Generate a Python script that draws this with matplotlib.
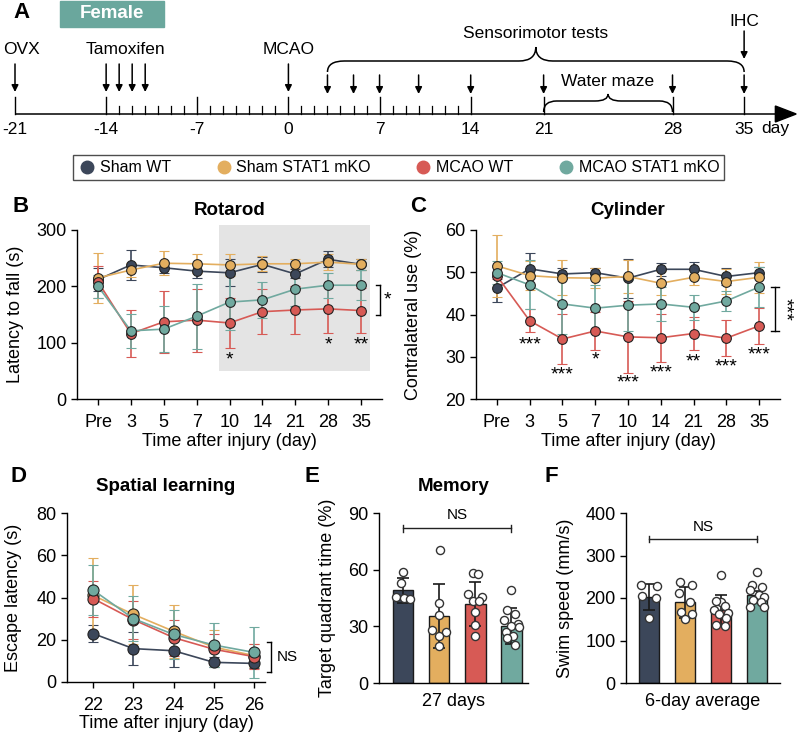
import numpy as np
import matplotlib
matplotlib.use('Agg')
import matplotlib.pyplot as plt
from matplotlib.path import Path
from matplotlib.patches import PathPatch, Rectangle, Polygon
from matplotlib.lines import Line2D

plt.rcParams['font.family'] = ['Liberation Sans', 'DejaVu Sans']
plt.rcParams['axes.linewidth'] = 1.0

W, H = 797, 736

# ---------------- data ----------------
groups = ['Sham WT', 'Sham STAT1 mKO', 'MCAO WT', 'MCAO STAT1 mKO']
colors = ['#3c475a', '#e3ae5f', '#d75a55', '#70a99f']

days_labels = ['Pre', '3', '5', '7', '10', '14', '21', '28', '35']

rotarod_mean = [
    [212, 238, 233, 227, 224, 239, 222, 248, 239],
    [215, 229, 241, 240, 238, 240, 240, 243, 239],
    [208, 116, 137, 140, 135, 155, 158, 160, 157],
    [200, 121, 124, 147, 172, 176, 195, 202, 202],
]
rotarod_err = [
    [20, 27, 10, 12, 24, 13, 8, 14, 10],
    [45, 12, 21, 17, 19, 13, 8, 14, 10],
    [28, 42, 55, 56, 45, 40, 42, 43, 40],
    [20, 30, 41, 58, 49, 32, 30, 22, 27],
]
rotarod_stars = {4: ('*', 70), 7: ('*', 96), 8: ('**', 96)}

cyl_mean = [
    [46.3, 50.8, 49.6, 49.9, 48.6, 50.7, 50.7, 49.0, 49.9],
    [51.5, 49.2, 48.7, 48.6, 49.0, 47.4, 48.8, 47.8, 48.8],
    [49.1, 38.5, 34.2, 36.1, 34.7, 34.5, 35.5, 34.4, 37.3],
    [49.9, 47.0, 42.5, 41.5, 42.2, 42.5, 41.7, 43.2, 46.5],
]
cyl_err = [
    [3.3, 3.7, 1.3, 1.0, 4.6, 1.6, 1.8, 2.0, 1.3],
    [7.3, 3.5, 4.2, 2.4, 4.0, 2.8, 1.8, 3.0, 3.6],
    [0.8, 2.7, 6.0, 4.4, 8.5, 5.7, 3.8, 4.3, 4.3],
    [2.7, 5.8, 7.0, 5.5, 6.0, 4.0, 3.0, 2.3, 4.8],
]
cyl_stars = ['', '***', '***', '*', '***', '***', '**', '***', '***']
cyl_star_y = [0, 32.8, 25.7, 29.3, 23.8, 26.2, 28.8, 27.6, 30.4]

learn_days = [22, 23, 24, 25, 26]
learn_mean = [
    [22.9, 15.8, 14.8, 9.3, 8.8],
    [41.0, 32.0, 24.0, 16.5, 12.5],
    [39.5, 29.5, 21.0, 15.5, 12.0],
    [43.5, 30.0, 22.5, 17.5, 14.0],
]
learn_err = [
    [4.2, 7.9, 7.6, 2.3, 2.0],
    [17.5, 14.0, 12.5, 8.0, 5.5],
    [8.5, 9.0, 8.5, 7.0, 6.0],
    [12.0, 10.5, 11.5, 10.5, 12.0],
]

memory_mean = [49.2, 35.5, 41.8, 30.0]
memory_sd = [6.6, 17.0, 11.7, 9.5]
memory_pts = [
    [59, 53, 45.5, 45, 44.5],
    [70.6, 42.4, 35.9, 27.9, 27.0, 24.7, 19.5],
    [58, 57.5, 47, 45.5, 43.5, 43.5, 37.5, 30.5, 24.7],
    [49.5, 38.5, 36.5, 33.5, 31.5, 30, 29.5, 27, 25, 24, 20],
]
memory_off = [
    [0.0, -0.05, -0.2, 0.02, 0.2],
    [0.02, 0.0, 0.0, -0.2, 0.2, 0.0, 0.0],
    [-0.05, 0.08, -0.2, 0.2, -0.05, 0.12, 0.0, 0.0, 0.0],
    [0.0, -0.1, 0.12, -0.2, 0.2, 0.0, 0.22, -0.15, 0.05, -0.12, 0.1],
]

swim_mean = [202, 190, 172, 207]
swim_sd = [30, 37, 36, 10]
swim_pts = [
    [231, 228, 205, 201, 154],
    [238, 231, 212, 190, 168, 162, 150],
    [254, 190, 194, 181, 172, 165, 162, 152, 136, 134],
    [262, 231, 227, 219, 207, 203, 195, 191, 180, 178],
]
swim_off = [
    [-0.22, 0.22, -0.2, 0.2, 0.0],
    [-0.15, 0.2, -0.18, 0.15, -0.1, 0.2, 0.0],
    [0.0, 0.0, -0.15, 0.12, -0.2, 0.2, -0.05, 0.15, -0.15, 0.1],
    [0.0, -0.15, 0.15, -0.2, 0.05, 0.2, -0.1, 0.12, -0.2, 0.2],
]

tl_major = [-21, -14, -7, 0, 7, 14, 21, 28, 35]
tl_minor = [d for d in range(-13, 14) if d % 7 != 0]
tamoxifen_days = [-14, -13, -12, -11]
sensorimotor_days = [3, 5, 7, 10, 14, 21, 28, 35]

# ---------------- helpers ----------------
fig = plt.figure(figsize=(W / 100, H / 100), dpi=100)


def add_ax(l, t, r, b):
    return fig.add_axes([l / W, 1 - b / H, (r - l) / W, (b - t) / H])


def fx(x):
    return x / W


def fy(y):
    return 1 - y / H


def style(ax):
    for s in ['top', 'right']:
        ax.spines[s].set_visible(False)
    ax.tick_params(direction='out', length=4.5, width=1.0, labelsize=13, pad=3)
    ax.tick_params(axis='x', pad=6)


def set_labels(ax, box, xlabel=None, xlab_y=None, ylabel=None, ylab_x=None):
    l, t, r, b = box
    if xlabel is not None:
        ax.set_xlabel(xlabel, fontsize=13, va='center')
        ax.xaxis.set_label_coords(0.5, (b - xlab_y) / (b - t))
    if ylabel is not None:
        ax.set_ylabel(ylabel, fontsize=13, va='center')
        ax.yaxis.set_label_coords((ylab_x - l) / (r - l), 0.5)


# ---------------- panel A ----------------
axA = add_ax(0, 0, W, 180)
k = 13.02
axA.set_xlim(-15 / k - 21, (W - 15) / k - 21)
axA.set_ylim(180, 0)
axA.axis('off')


def warp(d):
    return np.interp(d, [-21, 14, 21, 28, 35, 45], [-21, 14, 19.6, 29.5, 35, 45])


base_y = 114
axA.plot([warp(-21), 37.6], [base_y, base_y], color='k', lw=1.1, solid_capstyle='butt')
axA.add_patch(Polygon([(37.4, base_y - 8), (39.0, base_y), (37.4, base_y + 8)], closed=True, color='k'))
for d in tl_major:
    axA.plot([warp(d)] * 2, [97, base_y], color='k', lw=1.0)
    axA.text(warp(d), 129, str(d), ha='center', va='center', fontsize=12.5)
for d in tl_minor:
    axA.plot([warp(d)] * 2, [106, base_y], color='k', lw=0.9)
axA.text(37.4, 129, 'day', ha='center', va='center', fontsize=12.5)


def arrow(x, y0, y1):
    axA.annotate('', xy=(x, y1), xytext=(x, y0),
                 arrowprops=dict(arrowstyle='-|>', lw=1.1, color='k', mutation_scale=10,
                                 shrinkA=0, shrinkB=0))


arrow(warp(-21), 64, 92)
axA.text(warp(-21) - 0.95, 49, 'OVX', ha='left', va='center', fontsize=12.5)
for d in tamoxifen_days:
    arrow(warp(d), 64, 92)
axA.text(warp(-12.5), 49, 'Tamoxifen', ha='center', va='center', fontsize=12.5)
arrow(warp(0), 64, 92)
axA.text(warp(0), 49, 'MCAO', ha='center', va='center', fontsize=12.5)
for d in sensorimotor_days:
    arrow(warp(d), 75, 94)
arrow(warp(35), 31, 59)
axA.text(warp(35), 22, 'IHC', ha='center', va='center', fontsize=12.5)


def brace(xa, xb, y_end, y_mid, y_tip, r):
    xm = (xa + xb) / 2
    verts = [(xa, y_end), (xa, y_mid), (xa + r, y_mid), (xm - r, y_mid), (xm, y_mid), (xm, y_tip),
             (xm, y_mid), (xm + r, y_mid), (xb - r, y_mid), (xb, y_mid), (xb, y_end)]
    codes = [Path.MOVETO, Path.CURVE3, Path.CURVE3, Path.LINETO, Path.CURVE3, Path.CURVE3,
             Path.CURVE3, Path.CURVE3, Path.LINETO, Path.CURVE3, Path.CURVE3]
    axA.add_patch(PathPatch(Path(verts, codes), fill=False, lw=1.1, color='k'))


brace(warp(3), warp(35), 72, 61, 47, 1.3)
axA.text((warp(3) + warp(35)) / 2, 33, 'Sensorimotor tests', ha='center', va='center', fontsize=12.5)
brace(warp(21), warp(28), 112, 101, 94, 1.0)
axA.text((warp(21) + warp(28)) / 2, 81, 'Water maze', ha='center', va='center', fontsize=12.5)

# Female tag
fig.patches.append(Rectangle((fx(60), fy(27)), fx(164) - fx(60), fy(1) - fy(27),
                             transform=fig.transFigure, color='#6aa79d', zorder=0))
fig.text(fx(112), fy(14), 'Female', color='white', fontsize=13.5, fontweight='bold',
         ha='center', va='center')

# panel letters
for letter, (px, py) in zip('ABCDEF', [(13, 13), (12, 206), (410, 206), (10, 477), (305, 477), (545, 477)]):
    fig.text(fx(px), fy(py), letter, fontsize=16, fontweight='bold', ha='left', va='center')

# legend
handles = [Line2D([], [], ls='none', marker='o', ms=9, mfc=c, mec=c) for c in colors]
leg = fig.legend(handles, groups, loc='lower left', mode='expand', ncol=4,
                 bbox_to_anchor=(fx(73), fy(180), fx(724) - fx(73), fy(155) - fy(180)),
                 frameon=True, fancybox=False, edgecolor='#222222', fontsize=11.5,
                 handletextpad=0.2, borderaxespad=0, borderpad=0.3, handlelength=1.2)
leg.get_frame().set_linewidth(1.0)


# ---------------- line panels ----------------
def line_panel(ax, xs, means, errs, ms=7):
    for m, e, c in zip(means, errs, colors):
        ax.errorbar(xs, m, yerr=e, color=c, ecolor=c, elinewidth=1.2, capsize=3.5, capthick=1.2,
                    lw=1.2, marker='o', ms=ms, mec='#222222', mew=0.8, zorder=3)


# B
boxB = (77, 230, 382, 399)
axB = add_ax(*boxB)
style(axB)
xs = np.arange(len(days_labels))
axB.add_patch(Rectangle((3.68, 49), 8.27 - 3.68, 309 - 49, color='#e4e4e4', lw=0, zorder=0, clip_on=False))
line_panel(axB, xs, rotarod_mean, rotarod_err)
axB.set_xlim(-0.64, 8.64)
axB.set_ylim(0, 300)
axB.set_yticks([0, 100, 200, 300])
axB.set_xticks(xs)
axB.set_xticklabels(days_labels)
for i, (s, y) in rotarod_stars.items():
    axB.text(xs[i], y, s, ha='center', va='center', fontsize=14)
axB.plot([8.57, 8.57], [150, 202], color='k', lw=1.0, clip_on=False)
axB.plot([8.45, 8.57], [202, 202], color='k', lw=1.0, clip_on=False)
axB.plot([8.45, 8.57], [150, 150], color='k', lw=1.0, clip_on=False)
axB.text(8.82, 176, '*', ha='center', va='center', fontsize=14, clip_on=False)
axB.set_title('Rotarod', fontsize=13.5, fontweight='bold', pad=11)
set_labels(axB, boxB, 'Time after injury (day)', 441, 'Latency to fall (s)', 16)

# C
boxC = (476, 230, 780, 399)
axC = add_ax(*boxC)
style(axC)
line_panel(axC, xs, cyl_mean, cyl_err)
axC.set_xlim(-0.64, 8.64)
axC.set_ylim(20, 60)
axC.set_yticks([20, 30, 40, 50, 60])
axC.set_xticks(xs)
axC.set_xticklabels(days_labels)
for i, (s, y) in enumerate(zip(cyl_stars, cyl_star_y)):
    if s:
        axC.text(xs[i], y, s, ha='center', va='center', fontsize=14)
axC.plot([8.48, 8.48], [36.2, 46.4], color='k', lw=1.0, clip_on=False)
axC.plot([8.36, 8.6], [46.4, 46.4], color='k', lw=1.0, clip_on=False)
axC.plot([8.36, 8.6], [36.2, 36.2], color='k', lw=1.0, clip_on=False)
axC.text(8.78, 41.3, '***', ha='center', va='center', fontsize=14, rotation=270, clip_on=False)
axC.set_title('Cylinder', fontsize=13.5, fontweight='bold', pad=11)
set_labels(axC, boxC, 'Time after injury (day)', 441, 'Contralateral use (%)', 414)

# D
boxD = (67, 513, 265, 682)
axD = add_ax(*boxD)
style(axD)
line_panel(axD, learn_days, learn_mean, learn_err, ms=8)
axD.set_xlim(21.35, 26.27)
axD.set_ylim(0, 80)
axD.set_yticks([0, 20, 40, 60, 80])
axD.set_xticks(learn_days)
axD.plot([26.42, 26.42], [4.8, 19], color='k', lw=1.0, clip_on=False)
axD.plot([26.33, 26.42], [19, 19], color='k', lw=1.0, clip_on=False)
axD.plot([26.33, 26.42], [4.8, 4.8], color='k', lw=1.0, clip_on=False)
axD.text(26.55, 12, 'NS', ha='left', va='center', fontsize=11, clip_on=False)
axD.set_title('Spatial learning', fontsize=13.5, fontweight='bold', pad=16)
set_labels(axD, boxD, 'Time after injury (day)', 723, 'Escape latency (s)', 13)


# bar panels
def bar_panel(ax, means, sds, pts, offs):
    xb = np.arange(len(means))
    ax.bar(xb, means, width=0.58, color=colors, edgecolor='#1a1a1a', lw=1.0, zorder=1)
    ax.errorbar(xb, means, yerr=sds, fmt='none', ecolor='#1a1a1a', elinewidth=1.2, capsize=4,
                capthick=1.2, zorder=2)
    for i, (p, o) in enumerate(zip(pts, offs)):
        ax.scatter(i + np.array(o), p, s=34, facecolor='white', edgecolor='#333333', lw=1.0,
                   zorder=3, clip_on=False)
    ax.set_xticks([])
    return xb


def ns_line(ax, x0, x1, y, ty, d):
    ax.plot([x0, x1], [y, y], color='#222222', lw=1.0)
    ax.plot([x0, x0], [y - d, y + d], color='#222222', lw=1.0)
    ax.plot([x1, x1], [y - d, y + d], color='#222222', lw=1.0)
    ax.text((x0 + x1) / 2, ty, 'NS', ha='center', va='center', fontsize=11)


# E
boxE = (379, 513, 528, 683)
axE = add_ax(*boxE)
style(axE)
xb = bar_panel(axE, memory_mean, memory_sd, memory_pts, memory_off)
axE.set_xlim(-0.667, 3.47)
axE.set_ylim(0, 90)
axE.set_yticks([0, 30, 60, 90])
ns_line(axE, xb[0], xb[-1], 82, 89, 1.8)
axE.set_title('Memory', fontsize=13.5, fontweight='bold', pad=16)
set_labels(axE, boxE, '27 days', 702, 'Target quadrant time (%)', 328)

# F
boxF = (626, 513, 780, 683)
axF = add_ax(*boxF)
style(axF)
xb = bar_panel(axF, swim_mean, swim_sd, swim_pts, swim_off)
axF.set_xlim(-0.64, 3.64)
axF.set_ylim(0, 400)
axF.set_yticks([0, 100, 200, 300, 400])
ns_line(axF, xb[0], xb[-1], 339, 366, 8)
set_labels(axF, boxF, '6-day average', 702, 'Swim speed (mm/s)', 565)

fig.savefig('out.png', dpi=100)
